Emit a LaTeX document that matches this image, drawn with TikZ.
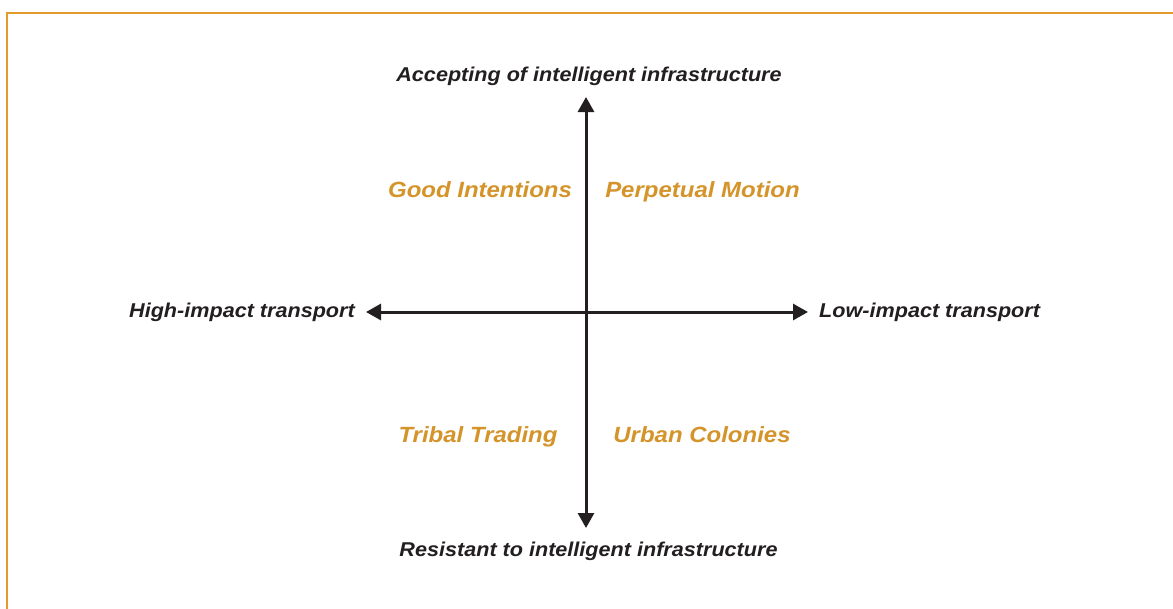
\documentclass[tikz,border=0pt]{standalone}
\usepackage{fontspec}
\setmainfont{Liberation Sans}
\newfontfamily\widesans[FakeStretch=1.08]{Liberation Sans}
\newfontfamily\quadsans[FakeStretch=1.09]{Liberation Sans}
\usetikzlibrary{arrows.meta}
\definecolor{frameor}{HTML}{E39B2D}
\definecolor{quador}{HTML}{D4942A}
\definecolor{axisblk}{HTML}{231F20}
\tikzset{
  axislabel/.style={font=\widesans\fontsize{20}{23}\selectfont\bfseries\itshape, text=axisblk, inner sep=0pt},
  quadlabel/.style={font=\quadsans\fontsize{22}{26}\selectfont\bfseries\itshape, text=quador, inner sep=0pt},
  axisarrow/.style={draw=axisblk, line width=3pt, {Triangle[length=15pt,width=16pt]}-{Triangle[length=15pt,width=16pt]}},
}
\begin{document}
\begin{tikzpicture}[x=1pt,y=-1pt]
\useasboundingbox (0,0) rectangle (1173,608);
\fill[white] (0,0) rectangle (1173,608);
\draw[frameor, line width=2pt] (6.5,620) -- (6.5,12.5) -- (1185,12.5);
\coordinate (top) at (586,97);
\coordinate (bot) at (586,528);
\coordinate (lft) at (366,312);
\coordinate (rgt) at (808,312);
\draw[axisarrow] (bot) -- (top);
\draw[axisarrow] (lft) -- (rgt);
\node[axislabel, anchor=base] (acc) at (589,81) {Accepting of intelligent infrastructure};
\node[axislabel, anchor=base] (res) at (588.5,556) {Resistant to intelligent infrastructure};
\node[axislabel, anchor=base east] (high) at (355,317) {High-impact transport};
\node[axislabel, anchor=base west] (low) at (819,317) {Low-impact transport};
\node[quadlabel, anchor=base] (good) at (480,197) {Good Intentions};
\node[quadlabel, anchor=base] (perp) at (702.5,197) {Perpetual Motion};
\node[quadlabel, anchor=base] (trib) at (478,442) {Tribal Trading};
\node[quadlabel, anchor=base] (urb) at (702,442) {Urban Colonies};
\end{tikzpicture}
\end{document}
